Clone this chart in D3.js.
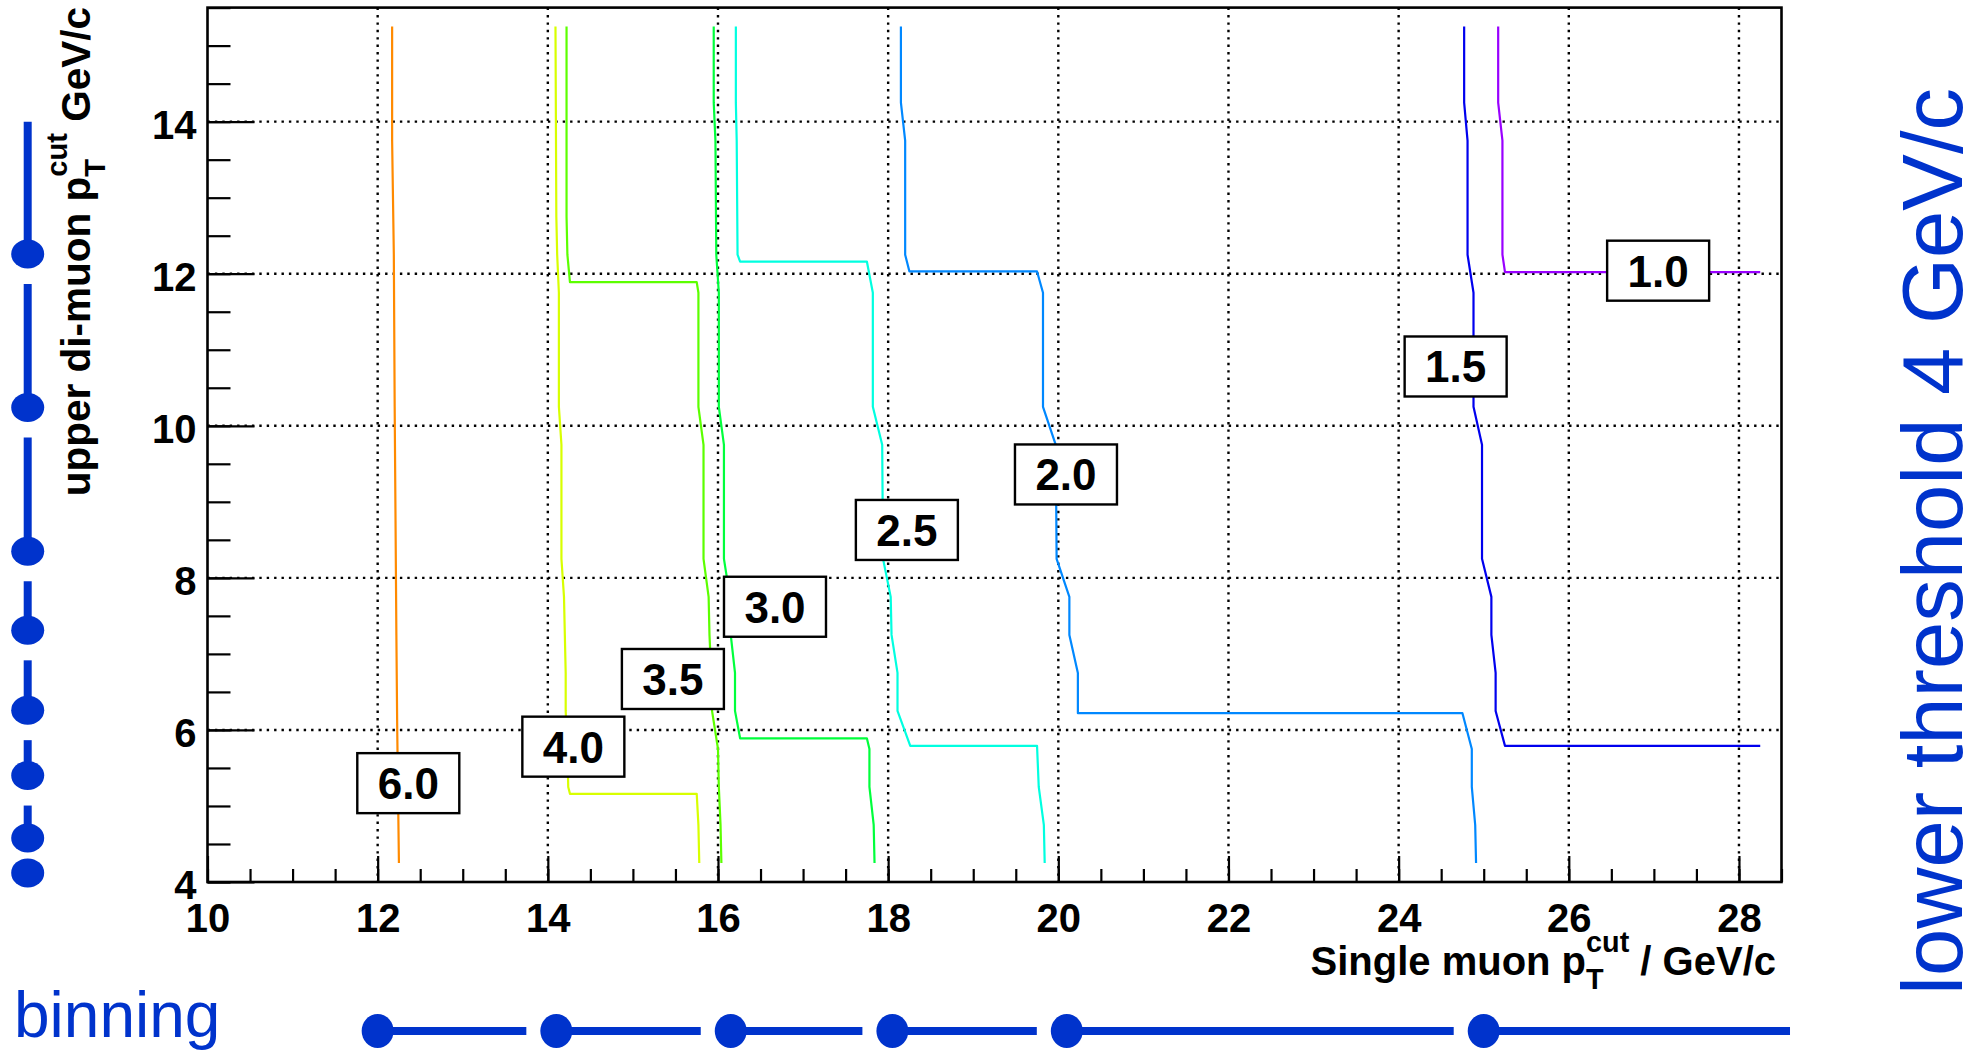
<!DOCTYPE html>
<html>
<head>
<meta charset="utf-8">
<script src="https://cdn.jsdelivr.net/npm/d3@7"></script>
<style>
  body { margin: 0; background: #fff; }
  svg text { font-family: "Liberation Sans", Arial, Helvetica, sans-serif; white-space: pre; }
</style>
</head>
<body>
<svg id="chart" width="1984" height="1050"></svg>
<script>
// contour levels, one polyline each: [single muon cut, upper di-muon cut]
const levels = ["6.0", "4.0", "3.5", "3.0", "2.5", "2.0", "1.5", "1.0"];
const levelColors = ["#ff8a00", "#d8ff00", "#5cff00", "#00ff3c", "#00ffe0", "#0088ff", "#0000ee", "#9900ff"];

const line60 = [[12.17,15.25],[12.17,13.75],[12.19,12.25],[12.2,10.25],[12.21,8.75],[12.22,7.25],[12.23,6.0],[12.25,4.25]];
const line40 = [[14.09,15.25],[14.1,12.75],[14.11,12.25],[14.13,11.75],[14.13,10.25],[14.16,9.75],[14.16,8.25],[14.19,7.75],
  [14.2,7.25],[14.21,6.75],[14.21,6.25],[14.23,5.75],[14.24,5.25],[14.26,5.16],[15.75,5.16],[15.77,4.75],[15.78,4.25]];
const line35 = [[14.22,15.25],[14.22,12.75],[14.23,12.25],[14.26,11.89],[15.75,11.89],[15.77,11.75],[15.77,10.25],[15.83,9.75],
  [15.83,8.25],[15.89,7.75],[15.9,7.25],[15.92,6.75],[15.93,6.25],[16.0,5.75],[16.01,5.25],[16.03,4.75],[16.04,4.25]];
const line30 = [[15.95,15.25],[15.95,14.25],[15.97,13.75],[15.98,12.25],[16.01,11.75],[16.01,10.25],[16.07,9.75],[16.07,8.25],
  [16.14,7.75],[16.15,7.25],[16.2,6.75],[16.2,6.25],[16.26,5.89],[17.75,5.89],[17.78,5.75],[17.78,5.25],[17.83,4.75],[17.84,4.25]];
const line25 = [[16.21,15.25],[16.21,14.25],[16.22,13.75],[16.23,12.25],[16.26,12.16],[17.75,12.16],[17.82,11.75],[17.82,10.25],
  [17.93,9.75],[17.94,8.25],[18.03,7.75],[18.04,7.25],[18.11,6.75],[18.11,6.25],[18.26,5.79],[19.75,5.79],[19.77,5.25],[19.83,4.75],[19.84,4.25]];
const line20 = [[18.15,15.25],[18.15,14.25],[18.2,13.75],[18.2,12.25],[18.25,12.03],[19.75,12.03],[19.82,11.75],[19.82,10.25],
  [19.97,9.75],[19.98,8.25],[20.13,7.75],[20.13,7.25],[20.23,6.75],[20.23,6.22],[24.75,6.22],[24.86,5.75],[24.86,5.25],[24.9,4.75],[24.91,4.25]];
const line15 = [[24.77,15.25],[24.77,14.25],[24.81,13.75],[24.81,12.25],[24.88,11.75],[24.88,10.25],[24.98,9.75],[24.98,8.25],
  [25.09,7.75],[25.09,7.25],[25.14,6.75],[25.14,6.25],[25.25,5.79],[28.25,5.79]];
const line10 = [[25.17,15.25],[25.17,14.25],[25.22,13.75],[25.22,12.25],[25.25,12.02],[28.25,12.02]];
const contours = [line60, line40, line35, line30, line25, line20, line15, line10];

// where each level label sits (data coords of the box centre)
const labelX = [12.36, 14.3, 15.47, 16.67, 18.22, 20.09, 24.67, 27.05];
const labelY = [5.3, 5.78, 6.67, 7.62, 8.63, 9.36, 10.78, 12.04];

// binning sketches
const xBinEdges = [12, 14.1, 16.15, 18.05, 20.1, 25.0];
const xBinEnd = 28.6;
const yBinEdges = [4.12, 4.58, 5.4, 6.26, 7.31, 8.35, 10.24, 12.26];
const yBinEnd = 14.0;

const xTicks = [10, 12, 14, 16, 18, 20, 22, 24, 26, 28];
const yTicks = [4, 6, 8, 10, 12, 14];

const pLeft = 207.5, pRight = 1781.5, pTop = 7.6, pBottom = 882;
const blue = "#0033cc";

const svg = d3.select("#chart");

const x = d3.scaleLinear().domain([10, 28.5]).range([pLeft, pRight]);
const y = d3.scaleLinear().domain([4, 15.5]).range([pBottom, pTop]);

// grid
svg.append("g").selectAll("line")
  .data(xTicks.filter(d => d > 10))
  .enter().append("line")
  .attr("x1", d => x(d)).attr("x2", d => x(d))
  .attr("y1", pTop).attr("y2", pBottom)
  .attr("stroke", "#000").attr("stroke-width", 2.4).attr("stroke-dasharray", "2.4,5");
svg.append("g").selectAll("line")
  .data(yTicks.filter(d => d > 4))
  .enter().append("line")
  .attr("x1", pLeft).attr("x2", pRight)
  .attr("y1", d => y(d)).attr("y2", d => y(d))
  .attr("stroke", "#000").attr("stroke-width", 2.4).attr("stroke-dasharray", "2.4,5");

// contours
const path = d3.line().x(d => x(d[0])).y(d => y(d[1]));
svg.append("g").selectAll("path")
  .data(contours)
  .enter().append("path")
  .attr("d", path)
  .attr("fill", "none")
  .attr("stroke", (d, i) => levelColors[i])
  .attr("stroke-width", 2.2)
  .attr("stroke-linejoin", "round");

// axes
const minorX = d3.range(10, 28.51, 0.5);
const minorY = d3.range(4, 15.51, 0.5);

function styleAxis(g) {
  g.select(".domain").remove();
  g.selectAll(".tick line").attr("stroke", "#000").attr("stroke-width", 2.2);
  g.selectAll("text").attr("font-size", 40).attr("font-weight", "bold").attr("fill", "#000")
    .attr("font-family", '"Liberation Sans", Arial, sans-serif');
}

svg.append("g").attr("transform", `translate(0,${pBottom})`)
  .call(d3.axisBottom(x).tickValues(minorX).tickSize(-13).tickFormat(""))
  .call(styleAxis);
svg.append("g").attr("transform", `translate(0,${pBottom})`)
  .call(d3.axisBottom(x).tickValues(xTicks).tickSize(-26).tickPadding(22).tickFormat(d3.format("d")))
  .call(styleAxis);
svg.append("g").attr("transform", `translate(${pLeft},0)`)
  .call(d3.axisLeft(y).tickValues(minorY).tickSize(-23).tickFormat(""))
  .call(styleAxis);
svg.append("g").attr("transform", `translate(${pLeft},0)`)
  .call(d3.axisLeft(y).tickValues(yTicks).tickSize(-47).tickPadding(11).tickFormat(d3.format("d")))
  .call(styleAxis)
  .selectAll("text").attr("dy", "0.42em");

// frame
svg.append("rect")
  .attr("x", pLeft).attr("y", pTop)
  .attr("width", pRight - pLeft).attr("height", pBottom - pTop)
  .attr("fill", "none").attr("stroke", "#000").attr("stroke-width", 2.6);

// level labels
const boxW = 102, boxH = 60;
const labels = svg.append("g").selectAll("g")
  .data(levels)
  .enter().append("g")
  .attr("transform", (d, i) => `translate(${x(labelX[i])},${y(labelY[i])})`);
labels.append("rect")
  .attr("x", -boxW / 2).attr("y", -boxH / 2)
  .attr("width", boxW).attr("height", boxH)
  .attr("fill", "#fff").attr("stroke", "#000").attr("stroke-width", 2.4);
labels.append("text")
  .attr("text-anchor", "middle").attr("y", 16)
  .attr("font-size", 44).attr("font-weight", "bold")
  .text(d => d);

// text with stacked super/subscript, returns total width
function richText(g, parts, size) {
  let pos = 0;
  parts.forEach(p => {
    if (typeof p === "string") {
      const t = g.append("text").attr("x", pos).attr("font-size", size).attr("font-weight", "bold").text(p);
      pos += t.node().getComputedTextLength();
    } else {
      const s = size * 0.72;
      const a = g.append("text").attr("x", pos).attr("y", -size * 0.58).attr("font-size", s).attr("font-weight", "bold").text(p.sup);
      const b = g.append("text").attr("x", pos).attr("y", size * 0.36).attr("font-size", s).attr("font-weight", "bold").text(p.sub);
      pos += Math.max(a.node().getComputedTextLength(), b.node().getComputedTextLength());
    }
  });
  return pos;
}

const xTitle = svg.append("g");
const xw = richText(xTitle, ["Single muon p", {sup: "cut", sub: "T"}, " / GeV/c"], 40);
xTitle.attr("transform", `translate(${1776 - xw},975)`);

const yTitle = svg.append("g");
const yw = richText(yTitle, ["upper di-muon p", {sup: "cut", sub: "T"}, " GeV/c"], 40.5);
yTitle.attr("transform", `translate(90,${7 + yw}) rotate(-90)`);

// binning along x (bottom)
const by = 1031;
const bx = svg.append("g");
xBinEdges.forEach((e, i) => {
  const next = i < xBinEdges.length - 1 ? x(xBinEdges[i + 1]) - 30 : x(xBinEnd);
  bx.append("line").attr("x1", x(e)).attr("x2", next).attr("y1", by).attr("y2", by)
    .attr("stroke", blue).attr("stroke-width", 8);
});
bx.selectAll("ellipse").data(xBinEdges).enter().append("ellipse")
  .attr("cx", d => x(d)).attr("cy", by).attr("rx", 16).attr("ry", 17).attr("fill", blue);

// binning along y (left)
const bxl = 27.7;
const byg = svg.append("g");
yBinEdges.forEach((e, i) => {
  const next = i < yBinEdges.length - 1 ? y(yBinEdges[i + 1]) + 30 : y(yBinEnd);
  if (next < y(e)) {
    byg.append("line").attr("x1", bxl).attr("x2", bxl).attr("y1", y(e)).attr("y2", next)
      .attr("stroke", blue).attr("stroke-width", 8);
  }
});
byg.selectAll("ellipse").data(yBinEdges).enter().append("ellipse")
  .attr("cx", bxl).attr("cy", d => y(d)).attr("rx", 16.5).attr("ry", 14.5).attr("fill", blue);

svg.append("text").attr("x", 14).attr("y", 1037)
  .attr("font-size", 64).attr("fill", blue).text("binning");

svg.append("text")
  .attr("transform", "translate(1962,995) rotate(-90)")
  .attr("font-size", 85).attr("fill", blue).text("lower threshold 4 GeV/c");
</script>
</body>
</html>
